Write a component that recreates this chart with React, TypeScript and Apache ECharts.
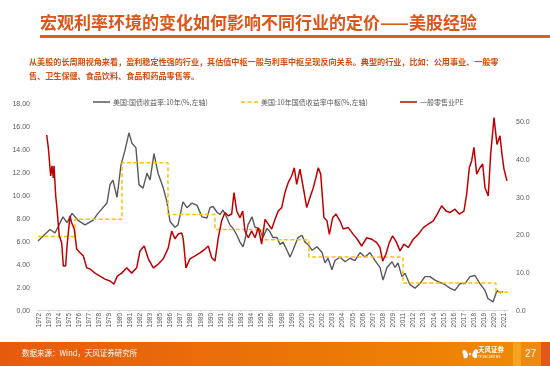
import React, { useEffect, useRef } from "react";
import * as echarts from "echarts";

// x-axis tick labels (equally spaced category positions 0..46)
const yearLabels = [
  "1972", "1973", "1974", "1975", "1976", "1977", "1978", "1979", "1980", "1981", "1982", "1983",
  "1985", "1986", "1987", "1988", "1989", "1990", "1991", "1992", "1993", "1994", "1995", "1996",
  "1998", "1999", "2000", "2001", "2002", "2003", "2004", "2005", "2006", "2007", "2008", "2009",
  "2011", "2012", "2013", "2014", "2015", "2016", "2017", "2018", "2019", "2020", "2021",
];

const seriesNames = ["美国:国债收益率:10年(%,左轴)", "美国:10年国债收益率中枢(%,左轴)", "一般零售业PE"];
const seriesColors = ["#595959", "#FFC000", "#C00000"];

// 10Y treasury yield (left axis) — positions in label units, values in %
const yieldX = [
  0, 1.18, 1.68, 2.47, 2.86, 3.36, 3.95, 4.64, 5.43, 5.92, 6.81, 7.11, 7.4, 7.8, 8.19, 8.59, 8.98, 9.28,
  9.67, 9.97, 10.37, 10.76, 11.06, 11.45, 11.85, 12.34, 12.73, 13.03, 13.52, 13.82, 14.31, 14.71, 15.2,
  15.7, 16.19, 16.68, 16.98, 17.28, 17.67, 17.97, 18.26, 18.66, 18.95, 19.25, 19.64, 19.94, 20.24, 20.43,
  20.73, 21.13, 21.42, 21.91, 22.21, 22.61, 22.9, 23.2, 23.59, 23.89, 24.19, 24.58, 24.88, 25.17, 25.67,
  26.06, 26.36, 26.65, 27.05, 27.54, 28.04, 28.33, 28.63, 29.02, 29.32, 29.81, 30.31, 30.8, 31.29, 31.79,
  32.28, 32.77, 33.27, 33.76, 34.06, 34.45, 34.95, 35.24, 35.54, 35.93, 36.23, 36.72, 37.22, 37.71, 38.2,
  38.7, 39.19, 39.68, 40.18, 40.67, 41.16, 41.66, 42.15, 42.65, 43.14, 43.63, 44.13, 44.42, 44.92, 45.31,
  45.61, 45.9,
];
const yieldY = [
  6.0, 7.0, 6.7, 8.1, 7.6, 8.4, 7.8, 7.4, 7.8, 8.4, 9.3, 10.9, 11.3, 9.8, 12.6, 13.9, 15.4, 14.5,
  14.1, 10.9, 10.6, 11.9, 11.3, 13.6, 11.9, 10.7, 9.4, 7.7, 7.2, 7.4, 9.4, 8.9, 9.3,
  9.1, 8.1, 8.0, 8.9, 9.0, 8.5, 8.3, 8.7, 8.0, 7.4, 7.1, 6.5, 5.9, 5.5, 6.1,
  7.4, 8.1, 7.2, 7.0, 6.3, 7.1, 6.8, 6.3, 6.3, 5.7, 5.9, 5.2, 4.6, 5.2, 6.3,
  6.5, 5.9, 5.7, 5.2, 5.5, 5.0, 4.1, 4.5, 3.5, 4.3, 4.6, 4.2, 4.5, 4.3, 5.0,
  4.6, 5.0, 4.3, 3.7, 2.6, 3.7, 4.2, 3.7, 4.1, 2.9, 3.2, 2.2, 1.9, 2.3, 2.9,
  2.9, 2.6, 2.4, 2.2, 1.9, 1.7, 2.3, 2.3, 2.9, 3.0, 2.3, 1.7, 1.0, 0.7, 1.7,
  1.5, 1.6,
];

// 10Y yield central level (left axis) — step change positions and levels
const centerX = [0, 3.65, 8.29, 12.83, 17.47, 22.11, 26.75, 36.03, 45.21, 46.4];
const centerY = [6.4, 7.9, 12.8, 8.3, 7.0, 6.1, 4.6, 2.35, 1.55, 1.55];

// General retail PE (right axis)
const peX = [
  0.86, 1.02, 1.25, 1.38, 1.51, 1.58, 1.75, 1.85, 2.1, 2.34, 2.5, 2.73, 2.89, 3.16, 3.33, 3.58, 3.82, 4.15,
  4.47, 4.81, 5.13, 5.63, 6.12, 6.61, 7.11, 7.5, 7.83, 8.26, 8.76, 9.25, 9.74, 10.07, 10.49, 10.89, 11.38,
  11.88, 12.37, 12.86, 13.2, 13.52, 13.85, 14.19, 14.34, 14.61, 15.0, 15.5, 15.99, 16.49, 16.81, 17.15,
  17.47, 17.8, 18.13, 18.46, 18.79, 19.12, 19.35, 19.62, 19.94, 20.21, 20.43, 20.76, 21.1, 21.42, 21.75,
  22.08, 22.41, 22.73, 23.07, 23.4, 23.72, 24.06, 24.38, 24.71, 25.04, 25.3, 25.54, 25.86, 26.19, 26.53,
  26.85, 27.18, 27.44, 27.67, 27.91, 28.23, 28.53, 28.76, 29.09, 29.42, 29.81, 30.14, 30.63, 31.13, 31.52,
  31.95, 32.45, 32.94, 33.44, 33.76, 34.03, 34.35, 34.68, 35.01, 35.41, 35.74, 36.13, 36.55, 37.05, 37.54,
  38.04, 38.53, 39.02, 39.42, 39.85, 40.28, 40.67, 41.16, 41.59, 42.05, 42.32, 42.58, 42.81, 43.04, 43.31,
  43.63, 43.9, 44.13, 44.45, 44.69, 45.02, 45.31, 45.61, 45.8, 46.0, 46.3,
];
const peY = [
  46.5, 43.1, 35.6, 38.3, 35.1, 38.3, 30.3, 27.7, 19.7, 17.8, 11.7, 11.7, 17.8, 25.0, 23.1, 21.5, 16.2, 15.2,
  14.4, 11.2, 10.9, 9.8, 9.0, 8.2, 7.7, 6.9, 9.0, 9.8, 11.2, 9.8, 11.2, 15.7, 17.0, 13.6, 11.2,
  12.2, 13.6, 16.5, 21.0, 18.9, 20.2, 20.5, 18.9, 11.2, 13.6, 14.4, 15.2, 16.2, 17.0, 13.9,
  13.0, 19.2, 23.7, 25.9, 25.0, 25.5, 31.2, 26.3, 24.5, 26.3, 21.0, 19.2, 21.0, 19.2, 21.9,
  17.5, 24.1, 22.8, 21.5, 24.1, 26.3, 27.2, 31.2, 33.9, 35.6, 37.8, 33.4, 37.4, 32.5, 27.2,
  29.9, 32.5, 35.2, 37.8, 36.1, 24.5, 23.7, 20.1, 24.5, 25.5, 23.7, 21.5, 21.9, 20.1, 18.8,
  17.0, 19.2, 18.8, 17.9, 16.6, 13.0, 14.8, 17.9, 19.7, 17.9, 15.7, 17.5, 16.6, 18.8, 20.1,
  21.9, 22.8, 23.7, 25.5, 27.7, 26.3, 25.9, 26.8, 25.5, 26.3, 30.8, 37.8, 39.6, 43.2, 36.1,
  37.8, 38.8, 32.5, 30.3, 41.4, 51.1, 44.0, 46.3, 41.5, 37.5, 34.3,
];

const titleText = "宏观利率环境的变化如何影响不同行业的定价——美股经验";
const noteLine1 = "从美股的长周期视角来看，盈利稳定性强的行业，其估值中枢一般与利率中枢呈现反向关系。典型的行业，比如：公用事业、一般零";
const noteLine2 = "售、卫生保健、食品饮料、食品和药品零售等。";
const sourceText = "数据来源：Wind，天风证券研究所";

const FONT = "'Liberation Sans', Arial, 'Noto Sans CJK SC', sans-serif";
const CJK = "'Noto Sans CJK SC', 'Liberation Sans', sans-serif";

export default function App() {
  const ref = useRef<HTMLDivElement>(null);
  useEffect(() => {
    if (!ref.current) return;
    const chart = echarts.init(ref.current, undefined, { renderer: "svg" });
    const pairs = (xs: number[], ys: number[]) => xs.map((x, i) => [x, ys[i]]);
    const tickVals = yearLabels.map((_, i) => i);

    const legendItems = [
      { x: 93, dash: null as null | number[] },
      { x: 241, dash: [4, 2.5] },
      { x: 400, dash: null as null | number[] },
    ];
    const legendGraphics: any[] = [];
    legendItems.forEach((it, i) => {
      legendGraphics.push({
        type: "line",
        shape: { x1: it.x, y1: 102, x2: it.x + 17, y2: 102 },
        style: { stroke: seriesColors[i], lineWidth: 1.5, lineDash: it.dash || undefined },
      });
      legendGraphics.push({
        type: "text",
        x: it.x + 20,
        y: 102,
        style: { text: seriesNames[i], fontSize: 7, fill: "#595959", fontFamily: CJK, verticalAlign: "middle" },
      });
    });

    chart.setOption({
      animation: false,
      textStyle: { fontFamily: FONT },
      grid: { left: 38, right: 42, top: 103, bottom: 56, containLabel: false },
      xAxis: {
        type: "value",
        min: 0,
        max: 46.4,
        interval: 1,
        axisLine: { show: true, lineStyle: { color: "#D9D9D9", width: 1 } },
        axisTick: { show: true, length: 2, lineStyle: { color: "#D9D9D9" }, customValues: tickVals },
        splitLine: { show: false },
        axisLabel: {
          customValues: tickVals,
          rotate: 90,
          fontSize: 6.5,
          color: "#595959",
          margin: 3,
          formatter: (v: number) => (Number.isInteger(v) ? yearLabels[v] ?? "" : ""),
        },
      },
      yAxis: [
        {
          type: "value",
          min: 0,
          max: 18,
          interval: 2,
          axisLine: { show: false },
          axisTick: { show: false },
          splitLine: { show: false },
          axisLabel: { fontSize: 7, color: "#595959", margin: 8, formatter: (v: number) => v.toFixed(2) },
        },
        {
          type: "value",
          min: 0,
          max: 55,
          interval: 10,
          position: "right",
          axisLine: { show: false },
          axisTick: { show: false },
          splitLine: { show: false },
          axisLabel: { fontSize: 7, color: "#595959", margin: 8, showMaxLabel: false, formatter: (v: number) => (v > 50 ? "" : v.toFixed(1)) },
        },
      ],
      series: [
        {
          name: seriesNames[0],
          type: "line",
          yAxisIndex: 0,
          data: pairs(yieldX, yieldY),
          showSymbol: false,
          symbol: "none",
          lineStyle: { color: seriesColors[0], width: 1.4 },
          itemStyle: { color: seriesColors[0] },
          z: 2,
        },
        {
          name: seriesNames[1],
          type: "line",
          yAxisIndex: 0,
          data: pairs(centerX, centerY),
          step: "end",
          showSymbol: false,
          symbol: "none",
          lineStyle: { color: seriesColors[1], width: 1.5, type: [4, 2.5] },
          itemStyle: { color: seriesColors[1] },
          z: 3,
        },
        {
          name: seriesNames[2],
          type: "line",
          yAxisIndex: 1,
          data: pairs(peX, peY),
          showSymbol: false,
          symbol: "none",
          lineStyle: { color: seriesColors[2], width: 1.5 },
          itemStyle: { color: seriesColors[2] },
          z: 4,
        },
      ],
      graphic: [
        ...legendGraphics,
        {
          type: "text",
          left: 40,
          top: 13,
          style: { text: titleText, fontSize: 17, fontWeight: "bold", fill: "#DE5519", fontFamily: CJK },
        },
        { type: "rect", shape: { x: 40, y: 35, width: 510, height: 3 }, style: { fill: "#E25A16" } },
        {
          type: "text",
          left: 29,
          top: 57,
          style: { text: noteLine1, fontSize: 8.1, fontWeight: "bold", fill: "#D24E12", fontFamily: CJK },
        },
        {
          type: "text",
          left: 29,
          top: 71,
          style: { text: noteLine2, fontSize: 8.1, fontWeight: "bold", fill: "#D24E12", fontFamily: CJK },
        },
        {
          type: "rect",
          shape: { x: 0, y: 342, width: 550, height: 24 },
          style: {
            fill: new echarts.graphic.LinearGradient(0, 0, 1, 0, [
              { offset: 0, color: "#E65A0E" },
              { offset: 1, color: "#F08C02" },
            ]),
          },
        },
        { type: "rect", shape: { x: 513, y: 342, width: 8, height: 24 }, style: { fill: "#F5A21E" } },
        { type: "rect", shape: { x: 521, y: 342, width: 20, height: 24 }, style: { fill: "#EE8A10" } },
        { type: "rect", shape: { x: 541, y: 342, width: 9, height: 24 }, style: { fill: "#E2581A" } },
        {
          type: "text",
          left: 22,
          top: 349,
          style: { text: sourceText, fontSize: 7.5, fill: "#FFFFFF", fontFamily: CJK },
        },
        {
          type: "group",
          x: 470,
          y: 354,
          children: [
            { type: "ellipse", shape: { cx: -3.5, cy: -4, rx: 2.2, ry: 3 }, rotation: 0.6, style: { fill: "#FFFFFF" } },
            { type: "ellipse", shape: { cx: 3.5, cy: -4.5, rx: 2.2, ry: 3.2 }, rotation: -0.6, style: { fill: "#FFFFFF" } },
            { type: "ellipse", shape: { cx: -3, cy: 3.5, rx: 2.2, ry: 2.8 }, rotation: -0.5, style: { fill: "#FFFFFF" } },
            { type: "ellipse", shape: { cx: 3.5, cy: 3.5, rx: 2.4, ry: 3 }, rotation: 0.5, style: { fill: "#FFFFFF" } },
            { type: "circle", shape: { cx: 0, cy: 0, r: 1.2 }, style: { fill: "#FFFFFF" } },
          ],
        },
        {
          type: "text",
          left: 478,
          top: 346,
          style: { text: "天风证券", fontSize: 6.5, fontWeight: "bold", fill: "#FFFFFF", fontFamily: CJK },
        },
        {
          type: "text",
          left: 478,
          top: 355,
          style: { text: "TF SECURITIES", fontSize: 3, fill: "#FFFFFF", fontFamily: FONT },
        },
        {
          type: "text",
          left: 525,
          top: 348,
          style: { text: "27", fontSize: 10, fill: "#FFFFFF", fontFamily: FONT },
        },
      ],
    });
    return () => chart.dispose();
  }, []);
  return <div ref={ref} style={{ position: "fixed", left: 0, top: 0, width: 550, height: 366 }} />;
}
